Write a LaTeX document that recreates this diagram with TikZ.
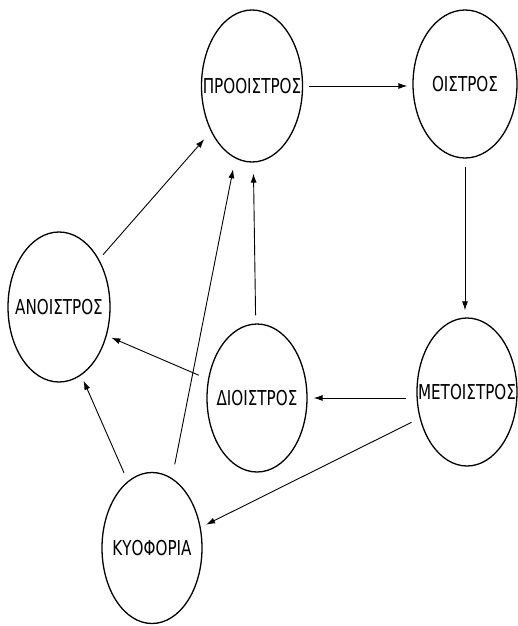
\documentclass[tikz,border=0pt]{standalone}
\usepackage{fontspec}
\newfontfamily\lblfont[FakeStretch=0.74]{DejaVu Sans}
\usetikzlibrary{shapes.geometric,arrows.meta}
\begin{document}
\begin{tikzpicture}[x=1pt,y=-1pt,
  st/.style={ellipse,draw,line width=1.3pt,minimum width=100pt,minimum height=150pt,inner sep=0pt,
    font=\lblfont\fontsize{20.5}{20.5}\selectfont},
  arr/.style={-{Latex[length=9pt,width=6pt]},line width=0.9pt}]
\useasboundingbox (0,0) rectangle (518,626);
\node[st,minimum width=101pt,minimum height=152pt] (pro) at (252,86) {\makebox[0pt]{ΠΡΟΟΙΣΤΡΟΣ}};
\node[st,minimum width=104pt,minimum height=148pt] (ois) at (465,84) {\makebox[0pt]{ΟΙΣΤΡΟΣ}};
\node[st,minimum width=102pt,minimum height=150pt] (ano) at (59,307) {\makebox[0pt]{ΑΝΟΙΣΤΡΟΣ}};
\node[st,minimum width=100pt,minimum height=148pt] (dio) at (257,398) {\makebox[0pt]{ΔΙΟΙΣΤΡΟΣ}};
\node[st,minimum width=100pt,minimum height=148pt] (met) at (467,392) {\makebox[0pt]{ΜΕΤΟΙΣΤΡΟΣ}};
\node[st,minimum width=100pt,minimum height=151pt] (kyo) at (152,548) {\makebox[0pt]{ΚΥΟΦΟΡΙΑ}};
\draw[arr,shorten <=6pt,shorten >=5pt] (pro.east) -- (pro.east -| ois.west);
\draw[arr,shorten <=8pt,shorten >=7pt] (ois.south) -- (ois.south |- met.north);
\draw[arr,shorten <=10pt,shorten >=6pt] (dio.east -| met.west) -- (dio.east);
\draw[arr,shorten <=9pt,shorten >=6pt] (met.209) -- (kyo.23);
\draw[arr,shorten <=10pt,shorten >=5pt] (dio.159) -- (ano.329);
\draw[arr,shorten <=9pt,shorten >=6pt] (kyo.110) -- (ano.288);
\draw[arr,shorten <=14pt,shorten >=11pt] (kyo.74) -- (pro.257);
\draw[arr,shorten <=8pt,shorten >=11pt] (dio.91) -- (pro.271);
\draw[arr,shorten <=6pt,shorten >=10pt] (ano.50) -- (pro.228);
\end{tikzpicture}
\end{document}
